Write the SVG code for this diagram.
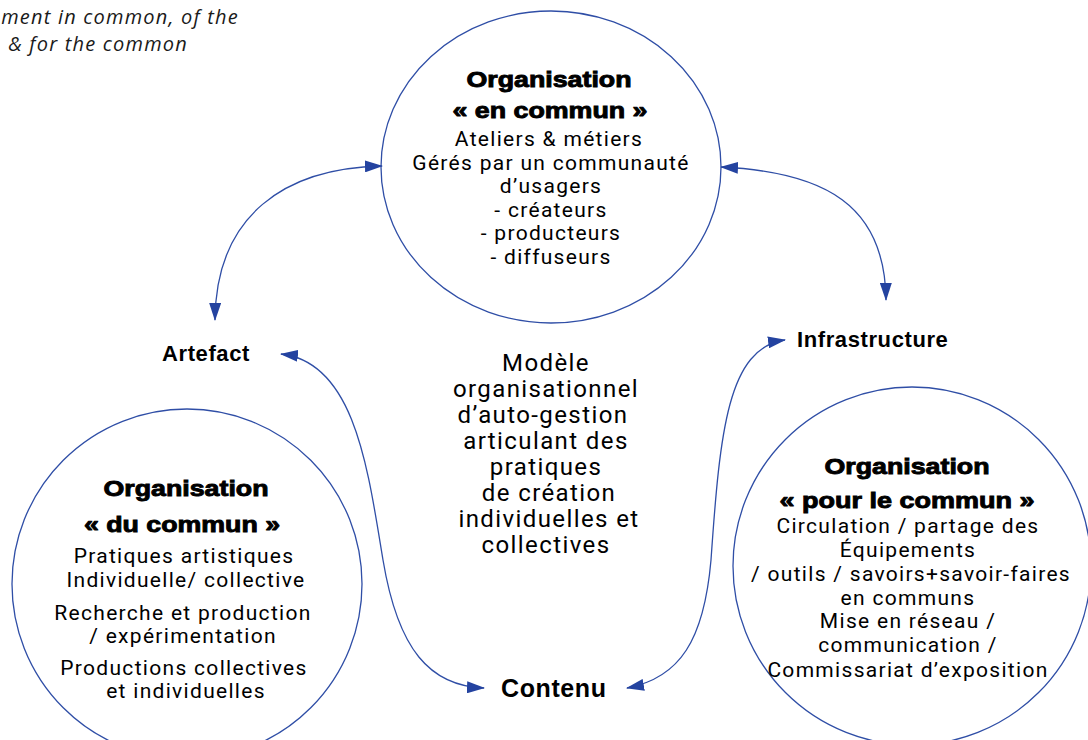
<svg xmlns="http://www.w3.org/2000/svg" width="1088" height="740" viewBox="0 0 1088 740">
<style>
.node{fill:none;stroke:#2f4ea6;stroke-width:1.3}
.conn{fill:none;stroke:#2f4ea6;stroke-width:1.3}
.h{font-family:"Liberation Sans",Arial,sans-serif;font-weight:bold;font-size:22px;fill:#000;stroke:#000;stroke-width:0.9;text-anchor:middle}
.b{font-family:Roboto,"DejaVu Sans",sans-serif;font-size:21px;letter-spacing:1.3px;fill:#000;text-anchor:middle}
.c{font-family:Roboto,"DejaVu Sans",sans-serif;font-size:24px;letter-spacing:1.4px;fill:#000;text-anchor:middle}
.l{font-family:"Liberation Sans",Arial,sans-serif;font-weight:bold;font-size:22px;fill:#000;letter-spacing:0.6px}
.i{font-family:"Open Sans",sans-serif;font-style:italic;font-size:20px;letter-spacing:1.2px;fill:#1a1a1a;text-anchor:end}
</style>
<defs>
<marker id="ah" viewBox="0 0 18 12" refX="17" refY="6" markerWidth="18" markerHeight="12" markerUnits="userSpaceOnUse" orient="auto-start-reverse">
<path d="M0,0 L18,6 L0,12 Z" fill="#2443a0"/>
</marker>
</defs>
<rect width="1088" height="740" fill="#fff"/>

<g id="caption">
<text class="i" x="239" y="24">ment in common, of the</text>
<text class="i" x="188" y="51">&amp; for the common</text>
</g>

<g id="connectors">
<path class="conn" d="M382,166 C285,168 216,215 215,320" marker-start="url(#ah)" marker-end="url(#ah)"/>
<path class="conn" d="M721,167 C825,172 885,205 886,300" marker-start="url(#ah)" marker-end="url(#ah)"/>
<path class="conn" d="M281,354 C355,362 368,470 383,560 C398,650 430,686 484,688" marker-start="url(#ah)" marker-end="url(#ah)"/>
<path class="conn" d="M627,688 C680,678 704,640 711,560 C720,430 728,348 785,340" marker-start="url(#ah)" marker-end="url(#ah)"/>
</g>

<g id="node-en-commun">
<ellipse class="node" cx="551" cy="167" rx="170" ry="156"/>
<text class="h" x="549" y="87" textLength="165" lengthAdjust="spacingAndGlyphs">Organisation</text>
<text class="h" x="550" y="118" textLength="195" lengthAdjust="spacingAndGlyphs">« en commun »</text>
<text class="b" x="549" y="146">Ateliers &amp; métiers</text>
<text class="b" x="551" y="169.5">Gérés par un communauté</text>
<text class="b" x="551" y="193">d’usagers</text>
<text class="b" x="551" y="216.5">- créateurs</text>
<text class="b" x="551" y="240">- producteurs</text>
<text class="b" x="551" y="263.5">- diffuseurs</text>
</g>

<g id="node-du-commun">
<circle class="node" cx="187" cy="584" r="175"/>
<text class="h" x="186" y="496" textLength="165" lengthAdjust="spacingAndGlyphs">Organisation</text>
<text class="h" x="182" y="532" textLength="196" lengthAdjust="spacingAndGlyphs">« du commun »</text>
<text class="b" x="184" y="563">Pratiques artistiques</text>
<text class="b" x="186" y="587">Individuelle/ collective</text>
<text class="b" x="183" y="620">Recherche et production</text>
<text class="b" x="183" y="643">/ expérimentation</text>
<text class="b" x="184" y="675">Productions collectives</text>
<text class="b" x="186" y="698">et individuelles</text>
</g>

<g id="node-pour-le-commun">
<circle class="node" cx="912" cy="566" r="179"/>
<text class="h" x="907" y="474" textLength="165" lengthAdjust="spacingAndGlyphs">Organisation</text>
<text class="h" x="907" y="508" textLength="255" lengthAdjust="spacingAndGlyphs">« pour le commun »</text>
<text class="b" x="908" y="533">Circulation / partage des</text>
<text class="b" x="908" y="557">Équipements</text>
<text class="b" x="911" y="581">/ outils / savoirs+savoir-faires</text>
<text class="b" x="908" y="605">en communs</text>
<text class="b" x="908" y="628">Mise en réseau /</text>
<text class="b" x="908" y="652">communication /</text>
<text class="b" x="908" y="677">Commissariat d’exposition</text>
</g>

<g id="node-modele">
<text class="c" x="546" y="371">Modèle</text>
<text class="c" x="546" y="397">organisationnel</text>
<text class="c" x="543" y="423">d’auto-gestion</text>
<text class="c" x="546" y="449">articulant des</text>
<text class="c" x="546" y="475">pratiques</text>
<text class="c" x="549" y="501">de création</text>
<text class="c" x="549" y="527">individuelles et</text>
<text class="c" x="546" y="553">collectives</text>
</g>

<g id="node-artefact">
<text class="l" x="162" y="361">Artefact</text>
</g>
<g id="node-infrastructure">
<text class="l" x="797" y="347">Infrastructure</text>
</g>
<g id="node-contenu">
<text class="l" x="501" y="697" style="font-size:25px">Contenu</text>
</g>
</svg>
